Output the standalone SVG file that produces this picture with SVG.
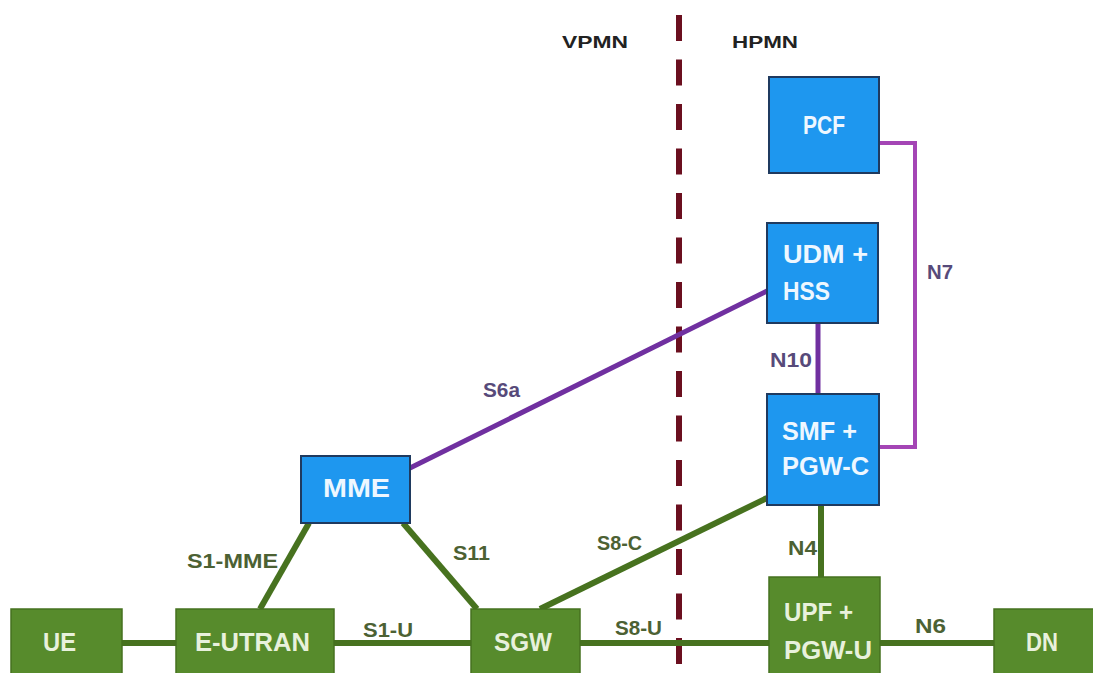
<svg xmlns="http://www.w3.org/2000/svg" width="1093" height="673" viewBox="0 0 1093 673">
<style>
text{font-family:"Liberation Sans",Arial,sans-serif;font-weight:bold}
.blue{fill:#1E97EF;stroke:#1F3A5F;stroke-width:2}
.green{fill:#578B2C;stroke:#46711F;stroke-width:1.5}
.bt{font-size:25px;fill:#EEF7FF}
.gt{font-size:25px;fill:#E8F1DC}
.gl{stroke:#47721F;stroke-width:6;fill:none}
.pl{stroke:#7030A0;stroke-width:5;fill:none}
.ml{stroke:#A445B5;stroke-width:4;fill:none}
.lg{font-size:20px;fill:#4C6133}
.lp{font-size:20px;fill:#574A7A}
.hd{font-size:17px;fill:#222}
</style>
<rect width="1093" height="673" fill="#fff"/>
<line x1="679" y1="15" x2="679" y2="665" stroke="#6B0F1F" stroke-width="6" stroke-dasharray="26 18.5"/>
<text class="hd" x="562" y="48" textLength="66" lengthAdjust="spacingAndGlyphs">VPMN</text>
<text class="hd" x="732" y="48" textLength="66" lengthAdjust="spacingAndGlyphs">HPMN</text>
<g id="connectors">
<line class="gl" x1="122" y1="643" x2="176" y2="643"/>
<line class="gl" x1="334" y1="643" x2="471" y2="643"/>
<line class="gl" x1="580" y1="643" x2="769" y2="643"/>
<line class="gl" x1="880" y1="643" x2="994" y2="643"/>
<line class="gl" x1="260" y1="609" x2="309" y2="523"/>
<line class="gl" x1="403" y1="523" x2="477" y2="609"/>
<line class="gl" x1="540" y1="609" x2="767" y2="498"/>
<line class="gl" x1="821" y1="505" x2="821" y2="577"/>
<line class="pl" x1="410" y1="468" x2="767" y2="291"/>
<line class="pl" x1="818" y1="323" x2="818" y2="394" stroke-width="6"/>
<polyline class="ml" points="879,143 915,143 915,447 879,447"/>
<text class="lp" x="483" y="397" textLength="37" lengthAdjust="spacingAndGlyphs">S6a</text>
<text class="lg" x="597" y="550" textLength="45" lengthAdjust="spacingAndGlyphs">S8-C</text>
<text class="lg" x="453" y="560" textLength="37" lengthAdjust="spacingAndGlyphs">S11</text>
<text class="lg" x="363" y="637" textLength="50" lengthAdjust="spacingAndGlyphs">S1-U</text>
<text class="lg" x="187" y="568" textLength="91" lengthAdjust="spacingAndGlyphs">S1-MME</text>
<text class="lg" x="615" y="635" textLength="47" lengthAdjust="spacingAndGlyphs">S8-U</text>
<text class="lg" x="915" y="633" textLength="31" lengthAdjust="spacingAndGlyphs">N6</text>
<text class="lg" x="788" y="555" textLength="29" lengthAdjust="spacingAndGlyphs">N4</text>
<text class="lp" x="770" y="367" textLength="42" lengthAdjust="spacingAndGlyphs">N10</text>
<text class="lp" x="927" y="279" textLength="26" lengthAdjust="spacingAndGlyphs">N7</text>
</g>
<g id="pcf"><rect class="blue" x="769" y="77" width="110" height="96"/><text class="bt" x="803" y="134" textLength="42" lengthAdjust="spacingAndGlyphs">PCF</text></g>
<g id="udm"><rect class="blue" x="767" y="223" width="111" height="100"/><text class="bt" x="783" y="263" textLength="85" lengthAdjust="spacingAndGlyphs">UDM +</text><text class="bt" x="783" y="300" textLength="47" lengthAdjust="spacingAndGlyphs">HSS</text></g>
<g id="smf"><rect class="blue" x="767" y="394" width="112" height="111"/><text class="bt" x="782" y="440" textLength="75" lengthAdjust="spacingAndGlyphs">SMF +</text><text class="bt" x="782" y="475" textLength="87" lengthAdjust="spacingAndGlyphs">PGW-C</text></g>
<g id="mme"><rect class="blue" x="301" y="456" width="109" height="67"/><text class="bt" x="323" y="497" textLength="67" lengthAdjust="spacingAndGlyphs">MME</text></g>
<g id="ue"><rect class="green" x="11" y="609" width="111" height="70"/><text class="gt" x="43" y="651" textLength="33" lengthAdjust="spacingAndGlyphs">UE</text></g>
<g id="eutran"><rect class="green" x="176" y="609" width="158" height="70"/><text class="gt" x="195" y="651" textLength="115" lengthAdjust="spacingAndGlyphs">E-UTRAN</text></g>
<g id="sgw"><rect class="green" x="471" y="609" width="109" height="70"/><text class="gt" x="494" y="651" textLength="58" lengthAdjust="spacingAndGlyphs">SGW</text></g>
<g id="upf"><rect class="green" x="769" y="577" width="111" height="102"/><text class="gt" x="784" y="621" textLength="69" lengthAdjust="spacingAndGlyphs">UPF +</text><text class="gt" x="784" y="659" textLength="88" lengthAdjust="spacingAndGlyphs">PGW-U</text></g>
<g id="dn"><rect class="green" x="994" y="609" width="105" height="70"/><text class="gt" x="1026" y="651" textLength="32" lengthAdjust="spacingAndGlyphs">DN</text></g>
</svg>
